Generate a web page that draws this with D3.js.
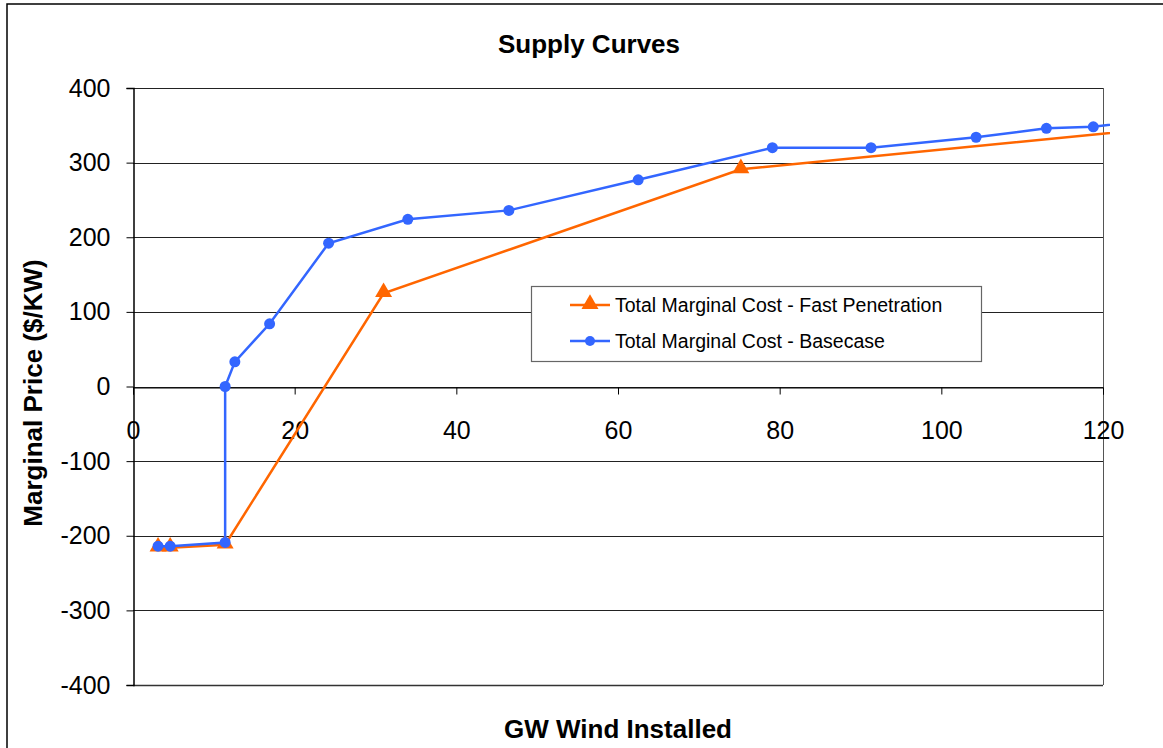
<!DOCTYPE html>
<html>
<head>
<meta charset="utf-8">
<script src="https://cdn.jsdelivr.net/npm/d3@7"></script>
<style>
  html, body { margin: 0; padding: 0; background: #fff; }
  svg { display: block; font-family: "Liberation Sans", Arial, sans-serif; }
</style>
</head>
<body>
<svg id="chart" width="1163" height="748"></svg>
<script>
// 系列データ (GW, $/KW)
const seriesNames = ['Total Marginal Cost - Fast Penetration', 'Total Marginal Cost - Basecase'];
const fastX = [3.1, 4.6, 11.4, 31.0, 75.2, 125];
const fastY = [-216, -216, -212, 125, 291, 344];
const baseX = [3.1, 4.6, 11.4, 11.4, 12.6, 16.9, 24.2, 34.0, 46.5, 62.5, 79.1, 91.3, 104.3, 113.0, 118.8, 125];
const baseY = [-214, -214, -209, 0, 33, 84, 192, 224, 236, 277, 320, 320, 334, 346, 348, 356];
const xTicks = [0, 20, 40, 60, 80, 100, 120];
const yTicks = [-400, -300, -200, -100, 0, 100, 200, 300, 400];

const svg = d3.select('#chart');
const plot = { left: 133, right: 1103, top: 88, bottom: 685 };

const x = d3.scaleLinear().domain([0, 120]).range([plot.left, plot.right]);
const y = d3.scaleLinear().domain([-400, 400]).range([plot.bottom, plot.top]);

// 外枠
svg.append('rect')
    .attr('x', 7).attr('y', 4)
    .attr('width', 1200).attr('height', 800)
    .attr('fill', 'none').attr('stroke', '#000').attr('stroke-width', 1.5);

// タイトル
svg.append('text')
    .attr('x', 589).attr('y', 53)
    .attr('text-anchor', 'middle')
    .attr('font-size', 26).attr('font-weight', 'bold')
    .text('Supply Curves');

// グリッド線
svg.append('g')
    .selectAll('line')
    .data(yTicks)
    .enter().append('line')
    .attr('x1', plot.left).attr('x2', plot.right)
    .attr('y1', d => Math.round(y(d)) + 0.5).attr('y2', d => Math.round(y(d)) + 0.5)
    .attr('stroke', '#222').attr('stroke-width', 1);

// プロットエリアの枠 (右・下)
svg.append('line')
    .attr('x1', plot.right + 0.5).attr('x2', plot.right + 0.5)
    .attr('y1', plot.top).attr('y2', plot.bottom)
    .attr('stroke', '#555').attr('stroke-width', 1);
svg.append('line')
    .attr('x1', plot.left).attr('x2', plot.right)
    .attr('y1', plot.bottom + 0.5).attr('y2', plot.bottom + 0.5)
    .attr('stroke', '#333').attr('stroke-width', 1.5);

// Y軸 (マイナスはハイフンで表示)
const yAxis = svg.append('g')
    .attr('transform', `translate(${plot.left + 0.5},0)`)
    .call(d3.axisLeft(y).tickValues(yTicks).tickSize(7).tickPadding(16).tickFormat(d => String(d)));
yAxis.select('.domain').attr('stroke', '#000').attr('stroke-width', 1.5);
yAxis.selectAll('.tick line').attr('stroke', '#000');
yAxis.selectAll('text')
    .attr('font-size', 25).attr('fill', '#000')
    .attr('font-family', '"Liberation Sans", Arial, sans-serif');

// X軸 (ゼロの位置)
const xAxis = svg.append('g')
    .attr('transform', `translate(0,${Math.round(y(0)) + 0.5})`)
    .call(d3.axisBottom(x).tickValues(xTicks).tickSize(7).tickPadding(27).tickFormat(d => String(d)));
xAxis.select('.domain').attr('stroke', '#000').attr('stroke-width', 1);
xAxis.selectAll('.tick line').attr('stroke', '#000');
xAxis.selectAll('text')
    .attr('font-size', 25).attr('fill', '#000')
    .attr('font-family', '"Liberation Sans", Arial, sans-serif');

// 軸タイトル
svg.append('text')
    .attr('transform', 'translate(42,393) rotate(-90)')
    .attr('text-anchor', 'middle')
    .attr('font-size', 26).attr('font-weight', 'bold')
    .text('Marginal Price ($/KW)');
svg.append('text')
    .attr('x', 618).attr('y', 738)
    .attr('text-anchor', 'middle')
    .attr('font-size', 26).attr('font-weight', 'bold')
    .text('GW Wind Installed');

// クリップ (線は右端を少し越える)
svg.append('clipPath').attr('id', 'plot-clip')
    .append('rect')
    .attr('x', plot.left).attr('y', plot.top - 10)
    .attr('width', plot.right - plot.left + 7).attr('height', plot.bottom - plot.top + 20);

const fastData = fastX.map((v, i) => ({ x: v, y: fastY[i] }));
const baseData = baseX.map((v, i) => ({ x: v, y: baseY[i] }));

const line = d3.line().x(d => x(d.x)).y(d => y(d.y));
const series = svg.append('g').attr('clip-path', 'url(#plot-clip)');

const orange = '#FF6600';
const blue = '#3366FF';
const triangle = d3.symbol().type(d3.symbolTriangle).size(125);

series.append('path')
    .datum(fastData)
    .attr('d', line)
    .attr('fill', 'none').attr('stroke', orange).attr('stroke-width', 2.5);

series.append('g')
    .selectAll('path')
    .data(fastData.filter(d => d.x <= 120))
    .enter().append('path')
    .attr('d', triangle)
    .attr('transform', d => `translate(${x(d.x)},${y(d.y) - 1})`)
    .attr('fill', orange);

series.append('path')
    .datum(baseData)
    .attr('d', line)
    .attr('fill', 'none').attr('stroke', blue).attr('stroke-width', 2.5);

series.append('g')
    .selectAll('circle')
    .data(baseData.filter(d => d.x <= 120))
    .enter().append('circle')
    .attr('cx', d => x(d.x)).attr('cy', d => y(d.y))
    .attr('r', 5.5)
    .attr('fill', blue);

// 凡例
const legend = svg.append('g').attr('transform', 'translate(531,286)');
legend.append('rect')
    .attr('x', 0.5).attr('y', 0.5)
    .attr('width', 450).attr('height', 75)
    .attr('fill', '#fff').attr('stroke', '#666').attr('stroke-width', 1.2);

const legendItems = legend.selectAll('g.item')
    .data(seriesNames)
    .enter().append('g')
    .attr('class', 'item')
    .attr('transform', (d, i) => `translate(0,${19 + i * 36})`);

legendItems.append('line')
    .attr('x1', 39).attr('x2', 79)
    .attr('y1', 0).attr('y2', 0)
    .attr('stroke', (d, i) => i === 0 ? orange : blue)
    .attr('stroke-width', 2.5);

legendItems.filter((d, i) => i === 0).append('path')
    .attr('d', triangle)
    .attr('transform', 'translate(59,-1)')
    .attr('fill', orange);

legendItems.filter((d, i) => i === 1).append('circle')
    .attr('cx', 59).attr('cy', 0).attr('r', 5)
    .attr('fill', blue);

legendItems.append('text')
    .attr('x', 84).attr('y', 0)
    .attr('dy', '0.35em')
    .attr('font-size', 19.5)
    .attr('fill', '#000')
    .text(d => d);
</script>
</body>
</html>
